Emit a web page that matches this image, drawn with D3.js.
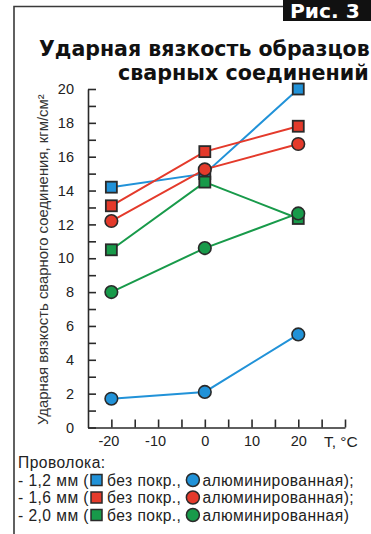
<!DOCTYPE html>
<html><head><meta charset="utf-8">
<script src="https://cdn.jsdelivr.net/npm/d3@7/dist/d3.min.js"></script>
<style>html,body{margin:0;padding:0;background:#fff;overflow:hidden}svg{display:block}</style>
</head><body>
<script>
const temps = [-20, 0, 20];
const wire12Bare = [14.2, 15.0, 20.0];
const wire12Al = [1.7, 2.1, 5.5];
const wire16Bare = [13.1, 16.3, 17.8];
const wire16Al = [12.2, 15.25, 16.75];
const wire20Bare = [10.5, 14.5, 12.35];
const wire20Al = [8.0, 10.6, 12.65];
const yTickValues = d3.range(0, 21, 1);
const xTickValues = d3.range(-20, 31, 5);
const xLabelValues = [-20, -10, 0, 10, 20];
const titleLines = ["Ударная вязкость образцов", "сварных соединений"];
const yTitle = "Ударная вязкость сварного соединения, кгм/см²";
const xTitle = "T, °C";
const figLabel = "Рис. 3";
const legendHead = "Проволока:";
const legendWires = ["1,2 мм", "1,6 мм", "2,0 мм"];
const legendEnds = [");", ");", ")"];
const colors = {blue: "#2192d8", red: "#e43a2b", green: "#189a4a"};

const series = [
  {vals: wire12Bare, color: colors.blue, shape: "square"},
  {vals: wire12Al, color: colors.blue, shape: "circle"},
  {vals: wire20Bare, color: colors.green, shape: "square"},
  {vals: wire20Al, color: colors.green, shape: "circle"},
  {vals: wire16Bare, color: colors.red, shape: "square"},
  {vals: wire16Al, color: colors.red, shape: "circle"}
];

const W = 371, H = 534;
const svg = d3.select("body").append("svg").attr("width", W).attr("height", H);
const ink = "#2a2a2a";
const titleFont = "'DejaVu Sans', Verdana, sans-serif";

// frame
svg.append("path").attr("d", `M14,${H} L14,6.5 L284,6.5`).attr("fill", "none").attr("stroke", "#3a3a3a").attr("stroke-width", 1.6);
svg.append("rect").attr("x", 283).attr("y", 0).attr("width", 88).attr("height", 21).attr("fill", "#111");
const fl = svg.append("text").attr("x", 290).attr("y", 18).attr("fill", "#fff").attr("font-family", titleFont)
  .attr("font-weight", "bold").attr("font-size", 17).text(figLabel);

function fit(sel, target) {
  const w = sel.node().getComputedTextLength();
  const fs = parseFloat(sel.attr("font-size"));
  sel.attr("font-size", fs * target / w);
}
fit(fl, 70);

// title
const t1 = svg.append("text").attr("x", 39).attr("y", 56).attr("font-family", titleFont)
  .attr("font-weight", "bold").attr("font-size", 20).attr("fill", "#111").text(titleLines[0]);
fit(t1, 331);
const t2 = svg.append("text").attr("x", 118).attr("y", 80).attr("font-family", titleFont)
  .attr("font-weight", "bold").attr("font-size", 20).attr("fill", "#111").text(titleLines[1]);
fit(t2, 251);

const x = d3.scaleLinear().domain([-25, 30]).range([88, 345]);
const y = d3.scaleLinear().domain([0, 20]).range([427.5, 89]);

const font = "'Liberation Sans', Arial, sans-serif";

const yAxis = svg.append("g").attr("transform", "translate(88,0)")
  .call(d3.axisLeft(y).tickValues(yTickValues).tickSizeInner(-8).tickSizeOuter(0).tickPadding(13)
    .tickFormat(d => d % 2 === 0 ? d : ""));
const xAxis = svg.append("g").attr("transform", "translate(0,427.5)")
  .call(d3.axisBottom(x).tickValues(xTickValues).tickSizeInner(-8).tickSizeOuter(0).tickPadding(8)
    .tickFormat(d => xLabelValues.includes(d) ? d : ""));
[yAxis, xAxis].forEach(g => {
  g.selectAll("path.domain").attr("stroke", ink).attr("stroke-width", 1.6);
  g.selectAll(".tick line").attr("stroke", ink).attr("stroke-width", 1.6);
  g.selectAll(".tick text").attr("fill", "#222").attr("font-family", font).attr("font-size", 14.5);
});
yAxis.selectAll(".tick text").attr("dx", -1);
xAxis.selectAll(".tick text").attr("dx", d => d < 0 ? -3 : 0);

svg.append("text").attr("x", 324).attr("y", 447).attr("font-family", font).attr("font-size", 15.5).attr("fill", "#222").text(xTitle);

const yl = svg.append("text").attr("transform", "translate(48,425) rotate(-90)").attr("font-family", font)
  .attr("font-size", 13).attr("fill", "#333").text(yTitle);
fit(yl, 331);

// series
const line = d3.line().x((d, i) => x(temps[i])).y(d => y(d));
series.forEach(s => {
  svg.append("path").datum(s.vals).attr("d", line).attr("fill", "none").attr("stroke", s.color).attr("stroke-width", 2);
});
function marker(g, shape, cx, cy, color, size) {
  if (shape === "square") {
    g.append("rect").attr("x", cx - size / 2).attr("y", cy - size / 2).attr("width", size).attr("height", size)
      .attr("fill", color).attr("stroke", ink).attr("stroke-width", 1.8);
  } else {
    g.append("circle").attr("cx", cx).attr("cy", cy).attr("r", size / 2 + 0.8).attr("fill", color).attr("stroke", ink).attr("stroke-width", 1.6);
  }
}
series.forEach(s => {
  const g = svg.append("g");
  s.vals.forEach((v, i) => marker(g, s.shape, x(temps[i]), y(v), s.color, 11));
});

// legend
const lfs = 15.6, ls = 0.45;
svg.append("text").attr("x", 18).attr("y", 468).attr("font-family", font).attr("font-size", lfs).attr("letter-spacing", ls).attr("fill", "#222").text(legendHead);
const legColors = [colors.blue, colors.red, colors.green];
legendWires.forEach((w, i) => {
  const by = 485.5 + i * 17.5;
  const g = svg.append("g");
  const txt = (xx, s) => g.append("text").attr("x", xx).attr("y", by).attr("font-family", font).attr("font-size", lfs)
    .attr("letter-spacing", ls).attr("fill", "#222").text(s);
  const a = txt(18, `- ${w} (`);
  let cx = 18 + a.node().getComputedTextLength() + 2;
  g.append("rect").attr("x", cx).attr("y", by - 11).attr("width", 11).attr("height", 11).attr("fill", legColors[i]).attr("stroke", ink).attr("stroke-width", 1.5);
  cx += 16;
  const b = txt(cx, "без покр.,");
  cx += b.node().getComputedTextLength() + 5;
  g.append("circle").attr("cx", cx + 6.5).attr("cy", by - 5.5).attr("r", 6.5).attr("fill", legColors[i]).attr("stroke", ink).attr("stroke-width", 1.5);
  cx += 16;
  txt(cx, "алюминированная" + legendEnds[i]);
});
</script>
</body></html>
